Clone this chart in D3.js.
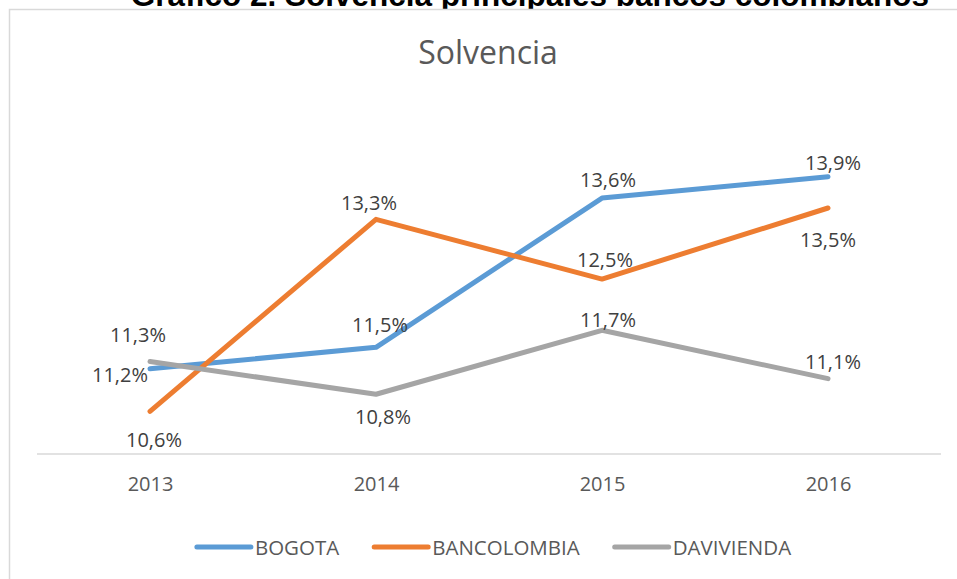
<!DOCTYPE html>
<html>
<head>
<meta charset="utf-8">
<script src="https://cdn.jsdelivr.net/npm/d3@7/dist/d3.min.js"></script>
<style>
  html, body { margin: 0; padding: 0; background: #fff; }
  svg { display: block; }
</style>
</head>
<body>
<svg id="chart" width="957" height="579"></svg>
<script>
// ---- data ----
const years = ["2013", "2014", "2015", "2016"];
const seriesNames = ["BOGOTA", "BANCOLOMBIA", "DAVIVIENDA"];
const bogota = [11.2, 11.5, 13.6, 13.9];
const bancolombia = [10.6, 13.3, 12.46, 13.46];
const davivienda = [11.3, 10.84, 11.74, 11.06];
const outerTitle = "Gráfico 2. Solvencia principales bancos colombianos";
const chartTitle = "Solvencia";

// ---- layout / style ----
const W = 957, H = 579;
const colors = ["#5B9BD5", "#ED7D31", "#A5A5A5"];
// label offsets (label centre relative to point), per series / point
const labelOffsets = [
  [[-31, 6, "end"], [4, -22], [6, -18], [5, -14]],
  [[4, 29], [-7, -16], [3, -19], [0, 32]],
  [[-12, -27], [7, 23], [6, -10], [5, -17]]
];

const svg = d3.select("#chart");
const fontFam = "'Open Sans', 'Noto Sans', sans-serif";

// outer (cut-off) document title
svg.append("text")
  .attr("x", 530).attr("y", 6)
  .attr("text-anchor", "middle")
  .attr("font-family", "'Liberation Sans', Arial, sans-serif")
  .attr("font-weight", "bold")
  .attr("font-size", 31.5)
  .attr("fill", "#000")
  .text(outerTitle);

// chart area (white with light border), covering title descenders
svg.append("rect")
  .attr("x", 9.5).attr("y", 9.5)
  .attr("width", W + 20).attr("height", H + 20)
  .attr("fill", "#fff")
  .attr("stroke", "#d9d9d9")
  .attr("stroke-width", 1.5);

// chart title
svg.append("text")
  .attr("x", 488).attr("y", 64)
  .attr("text-anchor", "middle")
  .attr("font-family", fontFam)
  .attr("font-size", 32)
  .attr("fill", "#595959")
  .text(chartTitle);

const x = d3.scalePoint().domain(years).range([37, 941]).padding(0.5);
const y = d3.scaleLinear().domain([10, 14]).range([454, 454 - 4 * 71.1]);

// x axis
const xAxis = d3.axisBottom(x).tickSize(0).tickPadding(0);
const gx = svg.append("g").attr("transform", "translate(0,454)").call(xAxis);
gx.select(".domain").attr("stroke", "#d9d9d9").attr("stroke-width", 1.5)
  .attr("d", "M37,0H941");
gx.selectAll(".tick text")
  .attr("y", 37).attr("dy", null)
  .attr("font-family", fontFam)
  .attr("font-size", 20)
  .attr("fill", "#595959");

const allSeries = [bogota, bancolombia, davivienda];
const line = d3.line().x((d, i) => x(years[i])).y(d => y(d));

allSeries.forEach((vals, si) => {
  svg.append("path")
    .datum(vals)
    .attr("d", line)
    .attr("fill", "none")
    .attr("stroke", colors[si])
    .attr("stroke-width", 5)
    .attr("stroke-linecap", "round")
    .attr("stroke-linejoin", "round");
});

const fmt = v => d3.format(".1f")(v).replace(".", ",") + "%";
allSeries.forEach((vals, si) => {
  vals.forEach((v, i) => {
    const off = labelOffsets[si][i];
    const anchor = off[2] || "middle";
    const px = x(years[i]), py = y(v);
    let tx = px + off[0];
    if (anchor === "end") tx = px - 2;
    svg.append("text")
      .attr("x", tx)
      .attr("y", py + off[1] + 7)
      .attr("text-anchor", anchor)
      .attr("font-family", fontFam)
      .attr("font-size", 20)
      .attr("fill", "#404040")
      .text(fmt(v));
  });
});

// legend
const lg = svg.append("g");
let cur = 0;
const gap = 35;
seriesNames.forEach((name, i) => {
  const g = lg.append("g");
  g.append("line")
    .attr("x1", 0).attr("x2", 54)
    .attr("y1", 0).attr("y2", 0)
    .attr("stroke", colors[i]).attr("stroke-width", 5)
    .attr("stroke-linecap", "round");
  const t = g.append("text")
    .attr("x", 58).attr("y", 7.5)
    .attr("font-family", fontFam)
    .attr("font-size", 20.5)
    .attr("fill", "#595959")
    .text(name);
  const w = 58 + t.node().getComputedTextLength();
  g.attr("transform", `translate(${cur},0)`);
  cur += w + gap;
});
const totalW = cur - gap;
lg.attr("transform", `translate(${494 - totalW / 2},547)`);
</script>
</body>
</html>
